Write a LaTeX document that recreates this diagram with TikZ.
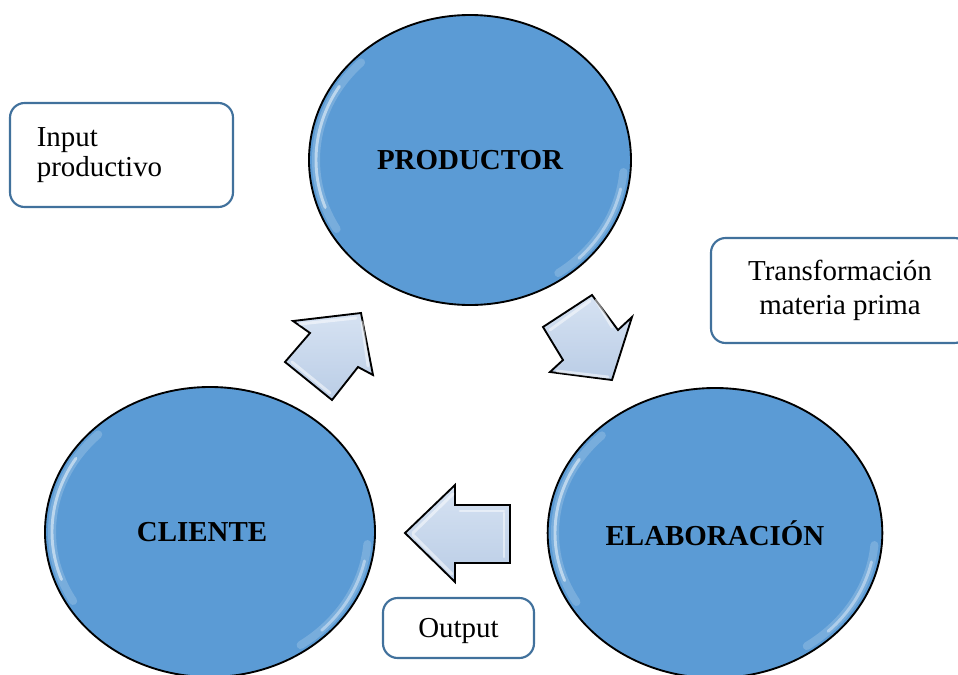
\documentclass[tikz,border=0pt]{standalone}
\usepackage{fontspec}
\setmainfont{Liberation Serif}
\usetikzlibrary{shapes.geometric}
\definecolor{circfill}{HTML}{5B9BD5}
\definecolor{boxline}{HTML}{41719C}
\definecolor{arrA}{HTML}{D6E2F2}
\definecolor{arrB}{HTML}{BACDE6}
\tikzset{
  bigcirc/.style={ellipse, draw=black, line width=1.4pt, fill=circfill,
    font=\fontsize{21.7}{25}\selectfont\bfseries, inner sep=0pt},
  infobox/.style={draw=boxline, line width=1.6pt, rounded corners=11pt, fill=white,
    font=\fontsize{21.7}{26}\selectfont, inner ysep=0pt},
  blockarrow/.style={draw=black, line width=1.4pt, line join=miter,
    top color=arrA, bottom color=arrB},
  shine/.style={white, line width=2.2pt, opacity=0.5, line cap=round},
  softshine/.style={white, line width=6pt, opacity=0.18, line cap=round},
}
\begin{document}
\begin{tikzpicture}[x=0.75pt,y=-0.75pt]
\clip (0,0) rectangle (958,675);
\fill[white] (0,0) rectangle (958,675);

% circles
\node[bigcirc, minimum width=241.5pt, minimum height=217.5pt] (prod) at (470,160) {PRODUCTOR};
\node[bigcirc, minimum width=247.5pt, minimum height=217.5pt] (cli) at (210,532) {CLIENTE\hspace*{12pt}};
\node[bigcirc, minimum width=251pt, minimum height=217.5pt] (elab) at (715,533) {ELABORACIÓN};

% bevel highlights on circles
\foreach \c/\rx in {prod/154, cli/158, elab/160}{
  \draw[softshine] ([shift={(150:\rx\space and 138)}]\c.center)
      arc[start angle=150, end angle=225, x radius=\rx, y radius=138];
  \draw[shine] ([shift={(160:\rx\space and 139)}]\c.center)
      arc[start angle=160, end angle=212, x radius=\rx, y radius=139];
  \draw[softshine] ([shift={(5:\rx\space and 138)}]\c.center)
      arc[start angle=5, end angle=55, x radius=\rx, y radius=138];
  \draw[shine, opacity=0.4] ([shift={(12:\rx\space and 139)}]\c.center)
      arc[start angle=12, end angle=45, x radius=\rx, y radius=139];
}

% block arrows
\draw[blockarrow] (361,313) -- (373,375) -- (358,367) -- (332,400) -- (285,362)
  -- (310,333) -- (293,321) -- cycle;
\draw[blockarrow] (612,380) -- (550,372) -- (563,360) -- (543,327) -- (592,295)
  -- (618,330) -- (632,317) -- cycle;
\draw[blockarrow] (405,533) -- (455,485) -- (455,505) -- (510,505) -- (510,563)
  -- (455,563) -- (455,582) -- cycle;

% arrow shines
\draw[shine] (300,324) -- (356,318);
\draw[shine] (362,322) -- (368,366);
\draw[shine] (292,362) -- (330,393);
\draw[shine] (550,330) -- (590,301);
\draw[shine] (596,300) -- (612,327);
\draw[shine] (557,371) -- (608,377);
\draw[shine] (413,533) -- (453,494);
\draw[shine] (460,511) -- (504,511);
\draw[shine] (504,513) -- (504,557);
\draw[shine] (413,535) -- (452,574);

% info boxes
\node[infobox, minimum width=167.25pt, minimum height=78pt, text width=127pt,
  inner xsep=20pt, align=left] (input) at (121.5,155) {\raisebox{-3pt}{Input}\\productivo};
\node[infobox, minimum width=193.5pt, minimum height=78.75pt, align=center]
  (transf) at (840,290.5) {Transformación\\materia prima};
\node[infobox, minimum width=113.25pt, minimum height=45pt, align=center, text depth=0pt]
  (output) at (458.5,628) {Output};
\end{tikzpicture}
\end{document}
